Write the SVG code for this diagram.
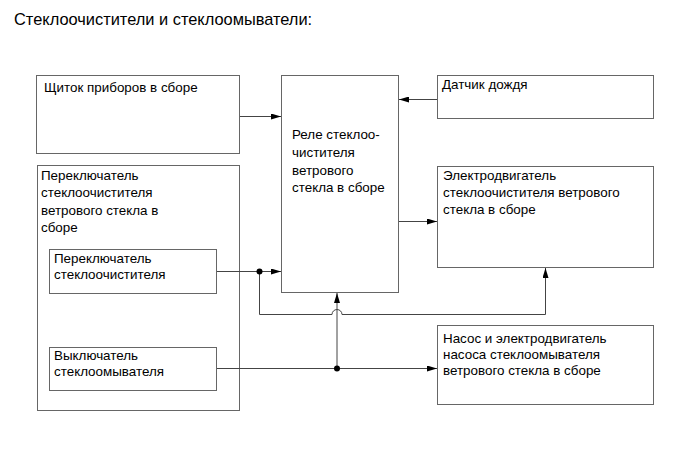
<svg xmlns="http://www.w3.org/2000/svg" width="690" height="465" viewBox="0 0 690 465">
<style>
.box{fill:#fff;stroke:#666;stroke-width:1}
.t{font-family:"Liberation Sans",Arial,sans-serif;font-size:13.4px;fill:#000}
.title{font-family:"Liberation Sans",Arial,sans-serif;font-size:16.4px;fill:#000}
.ln{fill:none;stroke:#444;stroke-width:1}
</style>
<defs>
<marker id="ah" viewBox="0 0 10 6" refX="10" refY="3" markerWidth="10" markerHeight="6" markerUnits="userSpaceOnUse" orient="auto">
<path d="M0,0 L10,3 L0,6 z" fill="#000"/>
</marker>
</defs>
<rect width="690" height="465" fill="#fff"/>
<text class="title" x="14" y="25">Стеклоочистители и стеклоомыватели:</text>

<g id="panel">
<rect class="box" x="36.5" y="75.5" width="203" height="78"/>
<text class="t" x="44" y="92">Щиток приборов в сборе</text>
</g>
<g id="relay">
<rect class="box" x="281.5" y="75.5" width="117" height="217"/>
<text class="t" x="292" y="139">Реле стеклоо-</text>
<text class="t" x="292" y="157">чистителя</text>
<text class="t" x="292" y="174.5">ветрового</text>
<text class="t" x="292" y="192">стекла в сборе</text>
</g>
<g id="rain">
<rect class="box" x="437.5" y="75.5" width="216" height="43"/>
<text class="t" x="442" y="89">Датчик дождя</text>
</g>
<g id="motor">
<rect class="box" x="437.5" y="166.5" width="216" height="101"/>
<text class="t" x="443" y="180">Электродвигатель</text>
<text class="t" x="443" y="197">стеклоочистителя ветрового</text>
<text class="t" x="443" y="214">стекла в сборе</text>
</g>
<g id="switch">
<rect class="box" x="37.5" y="165.5" width="202" height="245"/>
<text class="t" x="41" y="180">Переключатель</text>
<text class="t" x="41" y="197">стеклоочистителя</text>
<text class="t" x="41" y="214.5">ветрового стекла в</text>
<text class="t" x="41" y="232">сборе</text>
</g>
<g id="wiperSwitch">
<rect class="box" x="49.5" y="249.5" width="167" height="44"/>
<text class="t" x="54" y="263">Переключатель</text>
<text class="t" x="54" y="279">стеклоочистителя</text>
</g>
<g id="washerSwitch">
<rect class="box" x="49.5" y="347.5" width="167" height="43"/>
<text class="t" x="54" y="360">Выключатель</text>
<text class="t" x="54" y="376">стеклоомывателя</text>
</g>
<g id="pump">
<rect class="box" x="437.5" y="325.5" width="216" height="79"/>
<text class="t" x="443" y="343">Насос и электродвигатель</text>
<text class="t" x="443" y="359">насоса стеклоомывателя</text>
<text class="t" x="443" y="375">ветрового стекла в сборе</text>
</g>

<g id="connectors">
<line class="ln" x1="240" y1="116.5" x2="281" y2="116.5" marker-end="url(#ah)"/>
<line class="ln" x1="437" y1="99.5" x2="399" y2="99.5" marker-end="url(#ah)"/>
<line class="ln" x1="399" y1="221.5" x2="437" y2="221.5" marker-end="url(#ah)"/>
<line class="ln" x1="217" y1="271.5" x2="281" y2="271.5" marker-end="url(#ah)"/>
<path class="ln" d="M259.5,271.5 V314.5 H332 A5,5 0 0 1 342,314.5 H545.5 V268" marker-end="url(#ah)"/>
<line class="ln" x1="217" y1="368.5" x2="437" y2="368.5" marker-end="url(#ah)"/>
<line class="ln" x1="337" y1="368.5" x2="337" y2="293" marker-end="url(#ah)"/>
<circle cx="259.5" cy="271.5" r="3" fill="#000"/>
<circle cx="337" cy="368.5" r="3" fill="#000"/>
</g>
</svg>
